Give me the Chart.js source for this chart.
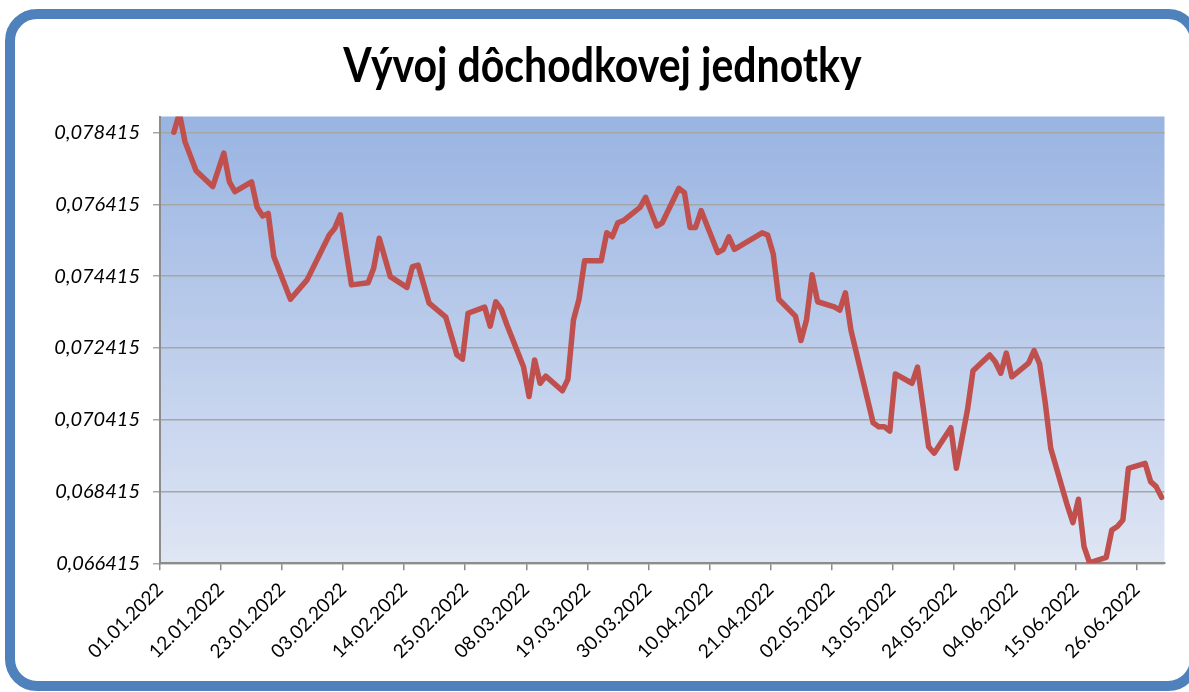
<!DOCTYPE html>
<html>
<head>
<meta charset="utf-8">
<script src="https://cdn.jsdelivr.net/npm/chart.js@4/dist/chart.umd.min.js"></script>
<style>
  html, body { margin: 0; padding: 0; background: #ffffff; overflow: hidden; }
  #wrap { position: relative; width: 1189px; height: 692px; }
  #c { position: absolute; left: 0; top: 0; }
  #frame { position: absolute; left: 5px; top: 9px; width: 1195px; height: 682px; box-sizing: border-box;
           border: 10px solid #4F81BD; border-radius: 32px; pointer-events: none; }
  #title { position: absolute; left: 0; top: 40px; width: 1205px; text-align: center;
           font-family: Lato, "Open Sans", sans-serif; font-weight: bold; font-size: 41px; line-height: 1; color: #000;
           transform: scaleY(1.17); transform-origin: 50% 0; }
</style>
</head>
<body>
<div id="wrap">
  <canvas id="c" width="1189" height="692"></canvas>
  <div id="frame"></div>
  <div id="title">Vývoj dôchodkovej jednotky</div>
</div>
<script>
const dates = [
  '03.01.2022','04.01.2022','05.01.2022','07.01.2022','10.01.2022','12.01.2022','13.01.2022','14.01.2022',
  '17.01.2022','18.01.2022','19.01.2022','20.01.2022','21.01.2022','24.01.2022','27.01.2022','31.01.2022',
  '01.02.2022','02.02.2022','04.02.2022','07.02.2022','08.02.2022','09.02.2022','11.02.2022','14.02.2022',
  '15.02.2022','16.02.2022','18.02.2022','21.02.2022','23.02.2022','24.02.2022','25.02.2022','28.02.2022',
  '01.03.2022','02.03.2022','03.03.2022','04.03.2022','07.03.2022','08.03.2022','09.03.2022','10.03.2022',
  '11.03.2022','14.03.2022','15.03.2022','16.03.2022','17.03.2022','18.03.2022','21.03.2022','22.03.2022',
  '23.03.2022','24.03.2022','25.03.2022','28.03.2022','29.03.2022','31.03.2022','01.04.2022','04.04.2022',
  '05.04.2022','06.04.2022','07.04.2022','08.04.2022','11.04.2022','12.04.2022','13.04.2022','14.04.2022',
  '19.04.2022','20.04.2022','21.04.2022','22.04.2022','25.04.2022','26.04.2022','27.04.2022','28.04.2022',
  '29.04.2022','02.05.2022','03.05.2022','04.05.2022','05.05.2022','09.05.2022','10.05.2022','11.05.2022',
  '12.05.2022','13.05.2022','16.05.2022','17.05.2022','18.05.2022','19.05.2022','20.05.2022','23.05.2022',
  '24.05.2022','26.05.2022','27.05.2022','30.05.2022','31.05.2022','01.06.2022','02.06.2022','03.06.2022',
  '06.06.2022','07.06.2022','08.06.2022','09.06.2022','10.06.2022','13.06.2022','14.06.2022','15.06.2022',
  '16.06.2022','17.06.2022','20.06.2022','21.06.2022','22.06.2022','23.06.2022','24.06.2022','27.06.2022',
  '28.06.2022','29.06.2022','30.06.2022'
];
const unitValues = [
  0.07842,0.07895,0.07816,0.07735,0.07691,0.07784,0.07704,0.07677,
  0.07704,0.07633,0.07609,0.07616,0.07496,0.07377,0.07431,0.07556,
  0.07575,0.07612,0.07417,0.07423,0.07463,0.07547,0.07440,0.07410,
  0.07468,0.07472,0.07366,0.07327,0.07222,0.07210,0.07338,0.07355,
  0.07302,0.07370,0.07349,0.07306,0.07189,0.07106,0.07208,0.07143,
  0.07163,0.07122,0.07154,0.07319,0.07377,0.07484,0.07484,0.07562,
  0.07551,0.07590,0.07596,0.07633,0.07661,0.07581,0.07590,0.07686,
  0.07674,0.07577,0.07577,0.07624,0.07507,0.07516,0.07551,0.07516,
  0.07562,0.07556,0.07503,0.07377,0.07330,0.07262,0.07320,0.07445,
  0.07370,0.07356,0.07347,0.07395,0.07291,0.07033,0.07022,0.07022,
  0.07010,0.07169,0.07143,0.07188,0.07078,0.06966,0.06948,0.07019,
  0.06906,0.07069,0.07178,0.07222,0.07203,0.07171,0.07227,0.07161,
  0.07199,0.07234,0.07197,0.07090,0.06962,0.06802,0.06755,0.06820,
  0.06688,0.06643,0.06658,0.06734,0.06744,0.06762,0.06906,0.06920,
  0.06869,0.06855,0.06825
];
const xTickDates = [
  '01.01.2022','12.01.2022','23.01.2022','03.02.2022','14.02.2022','25.02.2022','08.03.2022','19.03.2022',
  '30.03.2022','10.04.2022','21.04.2022','02.05.2022','13.05.2022','24.05.2022','04.06.2022','15.06.2022','26.06.2022'
];
const yTicks = [0.066415, 0.068415, 0.070415, 0.072415, 0.074415, 0.076415, 0.078415];
const axisStart = '01.01.2022';
const axisEnd = '01.07.2022';
const yMin = 0.066415, yMax = 0.07886;

function dayIndex(s) {
  const [d, m, y] = s.split('.').map(Number);
  const [d0, m0, y0] = axisStart.split('.').map(Number);
  return Math.round((Date.UTC(y, m - 1, d) - Date.UTC(y0, m0 - 1, d0)) / 86400000);
}

const points = dates.map((d, i) => ({ x: dayIndex(d) + 0.5, y: unitValues[i] }));

const bgPlugin = {
  id: 'plotBg',
  beforeDraw(chart) {
    const { ctx, chartArea: a } = chart;
    const g = ctx.createLinearGradient(0, a.top, 0, a.bottom);
    g.addColorStop(0, '#99B4E2');
    g.addColorStop(1, '#DFE6F4');
    ctx.save();
    ctx.fillStyle = g;
    ctx.fillRect(a.left, a.top, a.right - a.left, a.bottom - a.top);
    ctx.restore();
  }
};

new Chart(document.getElementById('c'), {
  type: 'line',
  data: {
    datasets: [{
      data: points,
      borderColor: '#C0504D',
      borderWidth: 5.5,
      pointRadius: 0,
      tension: 0,
      fill: false,
      borderJoinStyle: 'round',
      borderCapStyle: 'round'
    }]
  },
  options: {
    responsive: false,
    animation: false,
    layout: { padding: { top: 116.5, left: 0, right: 24.5, bottom: 0 } },
    plugins: { legend: { display: false }, title: { display: false }, tooltip: { enabled: false } },
    scales: {
      x: {
        type: 'linear',
        min: 0,
        max: dayIndex(axisEnd),
        afterBuildTicks: s => { s.ticks = xTickDates.map(d => ({ value: dayIndex(d) })); },
        afterFit: s => { s.height = 128.7; s.paddingLeft = 0; s.paddingRight = 0; },
        ticks: {
          autoSkip: false, minRotation: 45, maxRotation: 45,
          callback: (v, i) => xTickDates[i],
          font: { family: 'Lato', size: 19 }, color: '#000', padding: 8
        },
        grid: { drawOnChartArea: false, drawTicks: true, tickLength: 7, color: '#8C8C8C', lineWidth: 1.5 },
        border: { color: '#8C8C8C', width: 2 }
      },
      y: {
        min: yMin,
        max: yMax,
        afterBuildTicks: s => { s.ticks = yTicks.map(v => ({ value: v })); },
        afterFit: s => { s.width = 160; s.paddingTop = 0; s.paddingBottom = 0; },
        ticks: {
          callback: v => v.toFixed(6).replace('.', ','),
          font: { family: 'Lato', style: 'italic', size: 20 }, color: '#000', padding: 13
        },
        grid: { color: '#A6A6A6', lineWidth: 1.5, tickLength: 7, drawTicks: true },
        border: { color: '#8C8C8C', width: 2 }
      }
    }
  },
  plugins: [bgPlugin]
});
</script>
</body>
</html>
